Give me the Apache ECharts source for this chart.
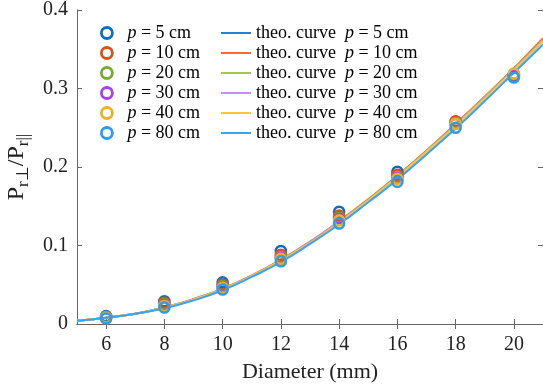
<!DOCTYPE html>
<html>
<head>
<meta charset="utf-8">
<script src="https://cdn.jsdelivr.net/npm/echarts@6/dist/echarts.min.js"></script>
<style>html,body{margin:0;padding:0;background:#fff;}#c{width:543px;height:392px;}</style>
</head>
<body>
<div id="c"></div>
<script>
// ---- data ----
const diameters = [6, 8, 10, 12, 14, 16, 18, 20];
const pLabels = ['p = 5 cm', 'p = 10 cm', 'p = 20 cm', 'p = 30 cm', 'p = 40 cm', 'p = 80 cm'];
const meas5  = [0.010, 0.029, 0.053, 0.093, 0.143, 0.194, 0.258, 0.316];
const meas10 = [0.009, 0.027, 0.050, 0.088, 0.138, 0.190, 0.258, 0.318];
const meas20 = [0.009, 0.025, 0.048, 0.085, 0.135, 0.187, 0.256, 0.318];
const meas30 = [0.008, 0.024, 0.047, 0.084, 0.134, 0.186, 0.255, 0.318];
const meas40 = [0.008, 0.023, 0.046, 0.083, 0.132, 0.185, 0.255, 0.319];
const meas80 = [0.007, 0.021, 0.044, 0.080, 0.128, 0.181, 0.250, 0.314];
const curveD = [5, 6, 7, 8, 9, 10, 11, 12, 13, 14, 15, 16, 17, 18, 19, 20, 21];
const theo5  = [0.004, 0.008, 0.013, 0.021, 0.031, 0.044, 0.061, 0.081, 0.104, 0.130, 0.157, 0.187, 0.219, 0.253, 0.288, 0.324, 0.361];
const theo10 = [0.004, 0.008, 0.013, 0.021, 0.032, 0.045, 0.062, 0.082, 0.105, 0.131, 0.159, 0.189, 0.221, 0.255, 0.290, 0.326, 0.364];
const theo20 = [0.004, 0.008, 0.013, 0.021, 0.031, 0.045, 0.061, 0.081, 0.104, 0.130, 0.158, 0.188, 0.220, 0.254, 0.289, 0.325, 0.362];
const theo30 = [0.004, 0.008, 0.013, 0.021, 0.031, 0.044, 0.061, 0.081, 0.104, 0.130, 0.157, 0.187, 0.219, 0.253, 0.288, 0.324, 0.361];
const theo40 = [0.004, 0.008, 0.013, 0.021, 0.031, 0.044, 0.061, 0.081, 0.103, 0.129, 0.157, 0.187, 0.219, 0.252, 0.287, 0.323, 0.360];
const theo80 = [0.004, 0.008, 0.013, 0.020, 0.030, 0.043, 0.060, 0.079, 0.102, 0.127, 0.155, 0.184, 0.216, 0.249, 0.284, 0.320, 0.356];
const xTicks = [6, 8, 10, 12, 14, 16, 18, 20];
const yTicks = [0, 0.1, 0.2, 0.3, 0.4];

const measAll = [meas5, meas10, meas20, meas30, meas40, meas80];
const theoAll = [theo5, theo10, theo20, theo30, theo40, theo80];
const markColors = ['#0A6FC0', '#D95319', '#77AC30', '#A83EF5', '#EDB120', '#2A9CF2'];
const lineColors = ['#1F84D6', '#FF6A33', '#A3C84A', '#C78CFF', '#FFC633', '#33A6F5'];
const theoNames = pLabels.map(l => 'theo. curve  ' + l);

const FONT = '"Liberation Serif", "Times New Roman", serif';
const fmt = name => name.replace('p =', '{i|p} =');
const legendText = {
  fontFamily: FONT, fontSize: 18, color: '#000', lineHeight: 18,
  rich: { i: { fontFamily: FONT, fontSize: 18, fontStyle: 'italic', color: '#000', lineHeight: 18 } }
};

const series = [];
theoAll.forEach((arr, k) => {
  series.push({
    type: 'line', name: theoNames[k], data: curveD.map((d, i) => [d, arr[i]]),
    smooth: true, symbol: 'none', showSymbol: false,
    lineStyle: { color: lineColors[k], width: 2 }, itemStyle: { color: lineColors[k] }, z: 2
  });
});
measAll.forEach((arr, k) => {
  series.push({
    type: 'scatter', name: pLabels[k], data: diameters.map((d, i) => [d, arr[i]]),
    symbol: 'circle', symbolSize: 10,
    itemStyle: { color: 'rgba(255,255,255,0)', borderColor: markColors[k], borderWidth: 2.6, opacity: 1 }, z: 3
  });
});

const chart = echarts.init(document.getElementById('c'), null, { renderer: 'canvas' });
const axisCol = '#666';
chart.setOption({
  animation: false,
  backgroundColor: '#fff',
  grid: { left: 77, right: 0, top: 10, bottom: 68, containLabel: false, outerBoundsMode: 'none' },
  legend: [
    {
      data: pLabels, orient: 'vertical', left: 100, top: 24, padding: 0, itemWidth: 11, itemHeight: 11, itemGap: 2,
      icon: 'circle', formatter: fmt,
      textStyle: Object.assign({ padding: [0, 0, 0, 10] }, legendText),
      itemStyle: { borderWidth: 2.8 }
    },
    {
      data: theoNames, orient: 'vertical', left: 220, top: 24, padding: 0, itemWidth: 30, itemHeight: 11, itemGap: 2,
      formatter: fmt, textStyle: legendText,
      itemStyle: { opacity: 0 }
    }
  ],
  xAxis: [
    {
      type: 'value', min: 5, max: 21, position: 'bottom',
      name: 'Diameter (mm)', nameLocation: 'middle', nameGap: 37,
      nameTextStyle: { fontFamily: FONT, fontSize: 22, color: '#222' },
      axisLine: { lineStyle: { color: axisCol, width: 1 } },
      axisTick: { inside: true, length: 5, customValues: xTicks, lineStyle: { color: axisCol } },
      axisLabel: { customValues: xTicks, fontFamily: FONT, fontSize: 20, color: '#222', margin: 11 },
      splitLine: { show: false }
    },
    {
      type: 'value', min: 5, max: 21, position: 'top',
      axisLine: { show: true, lineStyle: { color: axisCol, width: 1 } },
      axisTick: { inside: true, length: 5, customValues: xTicks, lineStyle: { color: axisCol } },
      axisLabel: { show: false }, splitLine: { show: false }
    }
  ],
  yAxis: [
    {
      type: 'value', min: 0, max: 0.4, interval: 0.1, position: 'left',
      name: '{P|P}{s|r⊥}{P|/P}{s|r||}', nameLocation: 'middle', nameGap: 32, nameRotate: 90,
      nameTextStyle: {
        rich: {
          P: { fontFamily: FONT, fontSize: 24, color: '#222', lineHeight: 30, verticalAlign: 'middle' },
          s: { fontFamily: FONT, fontSize: 17, color: '#222', lineHeight: 30, verticalAlign: 'bottom', padding: [12, 0, 0, 0] }
        }
      },
      axisLine: { show: true, lineStyle: { color: axisCol, width: 1 } },
      axisTick: { inside: true, length: 5, lineStyle: { color: axisCol } },
      axisLabel: { fontFamily: FONT, fontSize: 20, color: '#222', margin: 9,
        formatter: v => (v === 0 ? '0' : v.toFixed(1)) },
      splitLine: { show: false }
    },
    {
      type: 'value', min: 0, max: 0.4, interval: 0.1, position: 'right',
      axisLine: { show: true, lineStyle: { color: axisCol, width: 1 } },
      axisTick: { inside: true, length: 5, lineStyle: { color: axisCol } },
      axisLabel: { show: false }, splitLine: { show: false }
    }
  ],
  series: series
});
</script>
</body>
</html>
